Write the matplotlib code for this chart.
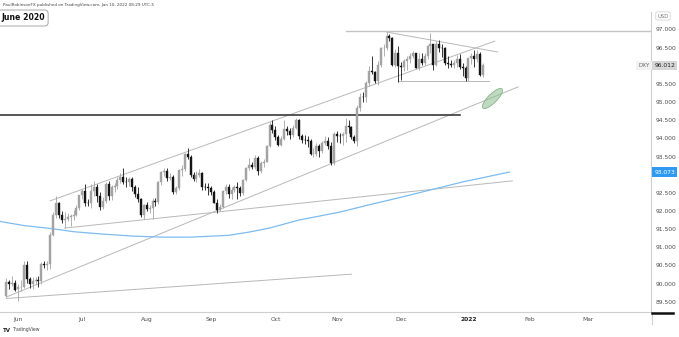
import numpy as np
import pandas as pd
import matplotlib
matplotlib.use("Agg")
import matplotlib.pyplot as plt
from matplotlib.collections import EllipseCollection
from matplotlib.lines import Line2D

# trading calendar (weekdays), the chart's time axis runs past the last bar
calendar = pd.bdate_range("2021-05-24", "2022-03-31")
first_bar = "2021-05-26"

# DXY daily candles, 26 May 2021 .. 10 Jan 2022
opens = [
    89.66, 90.04, 89.98, 90.03,
    89.85, 89.90, 89.92, 90.52, 90.14, 90.00, 90.08, 90.09, 90.06, 90.55, 90.52,
    90.54, 91.35, 91.90, 92.23, 91.90, 91.74, 91.79, 91.83, 91.85, 91.89, 92.08,
    92.44, 92.56, 92.23, 92.22, 92.54, 92.66, 92.42, 92.12, 92.28, 92.74, 92.41,
    92.67, 92.68, 92.85, 92.95, 92.81, 92.79, 92.89, 92.65, 92.48, 92.32, 91.90,
    92.17, 92.05, 92.08, 92.27, 92.25, 92.80, 93.07, 93.09, 92.92, 92.95, 92.52,
    92.63, 93.13, 93.15, 93.57, 93.50, 93.00, 92.87, 93.00, 93.06, 92.67, 92.66,
    92.63, 92.53, 92.23, 92.03, 92.12, 92.54, 92.66, 92.48, 92.58, 92.66, 92.63,
    92.49, 92.86, 93.19, 93.27, 93.21, 93.46, 93.09, 93.33, 93.36, 93.79, 94.36,
    94.23, 94.04, 93.83, 93.97, 94.26, 94.21, 94.08, 94.30, 94.51, 94.06, 93.96,
    93.95, 93.94, 93.57, 93.58, 93.80, 93.64, 93.86, 93.94, 93.79, 93.33,
    94.12, 94.07, 94.06, 94.13, 94.35, 94.32, 94.05, 93.94, 94.85, 95.15, 95.13,
    95.53, 95.86, 95.83, 95.58, 96.03, 96.48, 96.50, 96.81, 96.77, 96.01, 96.35,
    95.99, 95.97, 96.13, 96.18, 96.28, 96.34, 95.95, 96.19, 96.08, 96.28, 96.54,
    96.60, 96.03, 96.61, 96.50, 96.49, 96.07, 96.05, 96.03, 96.07, 96.20, 95.96, 95.95,
    95.67, 96.21, 96.26, 96.18, 96.33, 95.76,
]
highs = [
    90.15, 90.11, 90.20, 90.09,
    89.98, 90.10, 90.63, 90.63, 90.17, 90.18, 90.18, 90.21, 90.59, 90.63, 90.62,
    91.43, 91.97, 92.41, 92.25, 92.00, 91.98, 91.94, 91.93, 92.02, 92.16, 92.45,
    92.62, 92.74, 92.32, 92.74, 92.84, 92.75, 92.52, 92.38, 92.81, 92.83, 92.72,
    92.77, 92.94, 93.04, 93.19, 92.93, 92.95, 92.95, 92.72, 92.66, 92.36, 92.19,
    92.26, 92.16, 92.35, 92.35, 92.84, 93.10, 93.19, 93.19, 93.05, 92.98, 92.70,
    93.17, 93.27, 93.61, 93.73, 93.55, 93.07, 93.09, 93.15, 93.08, 92.77, 92.76,
    92.70, 92.58, 92.33, 92.19, 92.58, 92.74, 92.75, 92.66, 92.73, 92.80, 92.69,
    92.89, 93.22, 93.45, 93.35, 93.53, 93.52, 93.37, 93.43, 93.81, 94.45, 94.50,
    94.33, 94.10, 94.06, 94.50, 94.33, 94.29, 94.36, 94.56, 94.53, 94.11, 94.08,
    94.07, 93.97, 93.73, 93.86, 93.84, 93.92, 94.06, 94.03, 93.89, 94.18,
    94.20, 94.14, 94.17, 94.57, 94.52, 94.33, 94.08, 94.92, 95.26, 95.27, 95.57,
    95.99, 96.27, 95.85, 96.13, 96.52, 96.60, 96.93, 96.88, 96.80, 96.46, 96.55,
    96.11, 96.18, 96.27, 96.35, 96.40, 96.35, 96.35, 96.36, 96.34, 96.56, 96.91,
    96.60, 96.69, 96.71, 96.60, 96.51, 96.26, 96.15, 96.17, 96.29, 96.32, 96.08, 95.99,
    96.22, 96.35, 96.43, 96.44, 96.37, 96.08,
]
lows = [
    89.62, 89.86, 89.93, 89.80,
    89.53, 89.81, 89.87, 90.01, 89.89, 89.86, 89.98, 89.92, 90.00, 90.42, 90.38,
    90.40, 91.30, 91.82, 91.80, 91.68, 91.53, 91.72, 91.58, 91.75, 91.86, 92.02,
    92.33, 92.15, 92.14, 92.07, 92.42, 92.26, 92.04, 92.05, 92.23, 92.31, 92.30,
    92.52, 92.60, 92.77, 92.75, 92.66, 92.70, 92.56, 92.39, 92.25, 91.84, 91.78,
    91.99, 91.94, 91.78, 92.13, 92.18, 92.72, 92.97, 92.84, 92.85, 92.46, 92.46,
    92.58, 92.97, 93.11, 93.43, 92.95, 92.82, 92.79, 92.93, 92.59, 92.58, 92.45,
    92.43, 92.21, 91.94, 92.00, 92.08, 92.48, 92.35, 92.33, 92.52, 92.33, 92.40,
    92.45, 92.83, 93.12, 93.15, 93.17, 92.98, 93.06, 93.20, 93.34, 93.75, 94.15,
    93.96, 93.79, 93.78, 93.95, 94.09, 93.99, 94.04, 94.25, 93.97, 93.86, 93.85,
    93.75, 93.53, 93.50, 93.52, 93.49, 93.60, 93.82, 93.72, 93.28, 93.28,
    93.89, 93.87, 93.81, 93.90, 94.16, 93.97, 93.87, 93.80, 94.76, 94.99, 95.00,
    95.45, 95.77, 95.52, 95.47, 95.96, 96.26, 96.43, 96.67, 95.99, 95.97, 95.55,
    95.61, 95.87, 95.89, 96.07, 96.22, 95.93, 95.89, 96.03, 96.03, 96.20, 96.34,
    95.88, 96.00, 96.38, 96.25, 96.02, 95.94, 95.98, 95.94, 95.98, 95.91, 95.71, 95.57,
    95.58, 96.05, 95.98, 96.10, 95.71, 95.69,
]
closes = [
    90.04, 89.98, 90.03, 89.83,
    89.90, 89.92, 90.52, 90.14, 90.00, 90.08, 90.09, 90.06, 90.55, 90.52, 90.54,
    91.35, 91.90, 92.23, 91.90, 91.74, 91.79, 91.83, 91.85, 91.89, 92.08, 92.44,
    92.56, 92.23, 92.22, 92.54, 92.66, 92.42, 92.12, 92.28, 92.74, 92.41, 92.67,
    92.68, 92.85, 92.95, 92.81, 92.79, 92.89, 92.65, 92.48, 92.32, 91.90, 92.17,
    92.05, 92.08, 92.27, 92.25, 92.80, 93.07, 93.09, 92.92, 92.95, 92.52, 92.63,
    93.13, 93.15, 93.57, 93.50, 93.00, 92.87, 93.00, 93.06, 92.67, 92.66, 92.63,
    92.53, 92.23, 92.03, 92.12, 92.54, 92.66, 92.48, 92.58, 92.66, 92.63, 92.49,
    92.86, 93.19, 93.27, 93.21, 93.46, 93.09, 93.33, 93.36, 93.79, 94.36, 94.23,
    94.04, 93.83, 93.97, 94.26, 94.21, 94.08, 94.30, 94.51, 94.06, 93.96, 93.95,
    93.94, 93.57, 93.58, 93.80, 93.64, 93.86, 93.94, 93.79, 93.33, 94.12,
    94.07, 94.06, 94.13, 94.35, 94.32, 94.05, 93.94, 94.85, 95.15, 95.13, 95.53,
    95.86, 95.83, 95.58, 96.03, 96.48, 96.50, 96.81, 96.77, 96.01, 96.35, 95.99,
    95.97, 96.13, 96.18, 96.28, 96.34, 95.95, 96.19, 96.08, 96.28, 96.54, 96.60,
    96.03, 96.61, 96.50, 96.49, 96.07, 96.05, 96.03, 96.07, 96.20, 95.96, 95.95, 95.67,
    96.21, 96.26, 96.18, 96.33, 95.76, 96.012,
]

# 200-day moving average, read at a handful of dates
ma_dates = ["2021-05-24", "2021-06-03", "2021-06-17", "2021-06-28", "2021-07-09",
            "2021-07-26", "2021-08-09", "2021-08-23", "2021-09-09", "2021-09-20",
            "2021-09-29", "2021-10-13", "2021-11-02", "2021-11-16", "2021-12-01",
            "2021-12-09", "2021-12-30", "2022-01-21"]
ma_values = [91.71, 91.60, 91.51, 91.43, 91.37,
             91.31, 91.28, 91.28, 91.33, 91.42,
             91.53, 91.75, 91.97, 92.17, 92.38,
             92.50, 92.80, 93.073]

# hand-drawn trend lines: (start date, start price, end date, end price)
channel_top = ("2021-06-16", 92.28, "2022-01-14", 96.68)
channel_bottom = ("2021-05-26", 89.63, "2022-01-26", 95.42)
low_line = ("2021-05-26", 89.59, "2021-11-08", 90.26)
mid_line = ("2021-06-23", 91.53, "2022-01-24", 92.83)
wedge_top = ("2021-11-24", 96.93, "2022-01-17", 96.38)
wedge_bottom = ("2021-11-30", 95.59, "2022-01-12", 95.59)
high_level = ("2021-11-04", 96.96)
support_level = ("2021-12-29", 94.64)
target_zone = ("2022-01-13", 95.11)

month_ticks = ["2021-06", "2021-07", "2021-08", "2021-09", "2021-10", "2021-11",
               "2021-12", "2022-01", "2022-02", "2022-03"]
month_labels = ["Jun", "Jul", "Aug", "Sep", "Oct", "Nov", "Dec", "2022", "Feb", "Mar"]
price_ticks = np.arange(89.5, 97.01, 0.5)


def pos(d):
    return calendar.get_loc(pd.Timestamp(d))


UP = "#a3a3a3"
DOWN = "#141414"
LINE = "#b8b8b8"
TEXT = "#4d4d4d"

W, H = 679, 337
fig = plt.figure(figsize=(W / 100, H / 100), dpi=100)
ax = fig.add_axes([0, 25 / H, 651 / W, 300 / H])

o = np.array(opens); hi = np.array(highs); lo = np.array(lows); c = np.array(closes)
k = np.arange(len(o)) + pos(first_bar)
col = np.where(c >= o, UP, DOWN)
ax.vlines(k, lo, hi, colors=col, lw=0.6, zorder=3)
ax.bar(k, np.abs(c - o), bottom=np.minimum(o, c), width=0.68, color=col,
       edgecolor=col, lw=0.3, zorder=4)

for d0, p0, d1, p1 in [channel_top, channel_bottom, low_line, mid_line, wedge_top, wedge_bottom]:
    ax.plot([pos(d0), pos(d1)], [p0, p1], color=LINE, lw=0.7, zorder=2)

ax.plot([pos(d) for d in ma_dates], ma_values, color="#7cbcf0", lw=0.9, zorder=2)

x0, x1 = -0.15, 222.4
ax.plot([pos(high_level[0]), x1], [high_level[1]] * 2, color="#c4c4c4", lw=1.0, zorder=2)
ax.plot([x0, pos(support_level[0])], [support_level[1]] * 2, color="#3a3a3a", lw=1.2, zorder=2)

zone = EllipseCollection([27], [9], [45], units="dots",
                         offsets=[(pos(target_zone[0]), target_zone[1])],
                         offset_transform=ax.transData,
                         facecolors=[(0.55, 0.74, 0.55, 0.55)],
                         edgecolors=[(0.45, 0.66, 0.45, 0.8)], linewidths=0.6, zorder=5)
ax.add_collection(zone)

ax.set_xlim(x0, x1)
ax.set_ylim(89.218, 97.482)

# axes: price scale on the right, months along the bottom
for s in ["top", "left"]:
    ax.spines[s].set_visible(False)
for s in ["right", "bottom"]:
    ax.spines[s].set_color("#cfcfcf")
    ax.spines[s].set_linewidth(0.8)
ax.yaxis.tick_right()
# scale labels hidden under the price tags are left out
tags = [closes[-1], ma_values[-1]]
shown = [p for p in price_ticks if min(abs(p - t) for t in tags) > 0.2]
ax.set_yticks(shown)
ax.set_yticklabels([f"{p:.3f}" for p in shown])
ax.set_xticks([calendar.searchsorted(pd.Timestamp(m)) for m in month_ticks])
ax.set_xticklabels(month_labels)
ax.tick_params(length=0, labelsize=4.3, labelcolor=TEXT)
ax.tick_params(axis="y", pad=3.5)
ax.tick_params(axis="x", pad=3.5)
for t in ax.get_xticklabels():
    if t.get_text() == "2022":
        t.set_color("#222222")
        t.set_fontweight("bold")

# last price and moving average tags on the price scale
ax.annotate(f"{closes[-1]:.3f}", xy=(1, closes[-1]), xycoords=("axes fraction", "data"),
            xytext=(2.5, 0), textcoords="offset points", ha="left", va="center",
            fontsize=4.3, color="#222222", annotation_clip=False,
            bbox=dict(boxstyle="square,pad=0.35", fc="#d6d6d6", ec="none"))
ax.annotate("DXY", xy=(1, closes[-1]), xycoords=("axes fraction", "data"),
            xytext=(-1, 0), textcoords="offset points", ha="right", va="center",
            fontsize=4, color="#666666", annotation_clip=False,
            bbox=dict(boxstyle="square,pad=0.35", fc="#f2f2f2", ec="none"))
ax.annotate(f"{ma_values[-1]:.3f}", xy=(1, ma_values[-1]), xycoords=("axes fraction", "data"),
            xytext=(2.5, 0), textcoords="offset points", ha="left", va="center",
            fontsize=4.3, color="white", annotation_clip=False,
            bbox=dict(boxstyle="square,pad=0.35", fc="#2e9af2", ec="none"))

fig.text(663 / W, 1 - 16 / H, "USD", fontsize=3.8, color="#777777", ha="center", va="center",
         bbox=dict(boxstyle="round,pad=0.3", fc="white", ec="#cccccc", lw=0.5))
fig.add_artist(Line2D([652 / W, 652 / W], [1 - 324 / H, 25 / H], color="#cfcfcf", lw=0.8))
fig.add_artist(Line2D([652 / W, 673 / W], [1 - 313 / H] * 2, color="#111111", lw=1.8))

fig.text(3 / W, 1 - 5 / H, "PaulRobinsonFX published on TradingView.com, Jan 10, 2022 08:29 UTC-5",
         fontsize=3.0, color="#444444", ha="left", va="center")
fig.text(1 / W, 1 - 18 / H, "June 2020", fontsize=5.6, fontweight="bold", color="#111111",
         ha="left", va="center",
         bbox=dict(boxstyle="round,pad=0.45", fc="white", ec="#9a9a9a", lw=0.6))
fig.text(3 / W, 1 - 330 / H, "TV", fontsize=4, fontweight="bold", color="#222222",
         ha="left", va="center")
fig.text(12 / W, 1 - 330 / H, "TradingView", fontsize=3.3, color="#444444",
         ha="left", va="center")

fig.savefig("out.png", dpi=100)
